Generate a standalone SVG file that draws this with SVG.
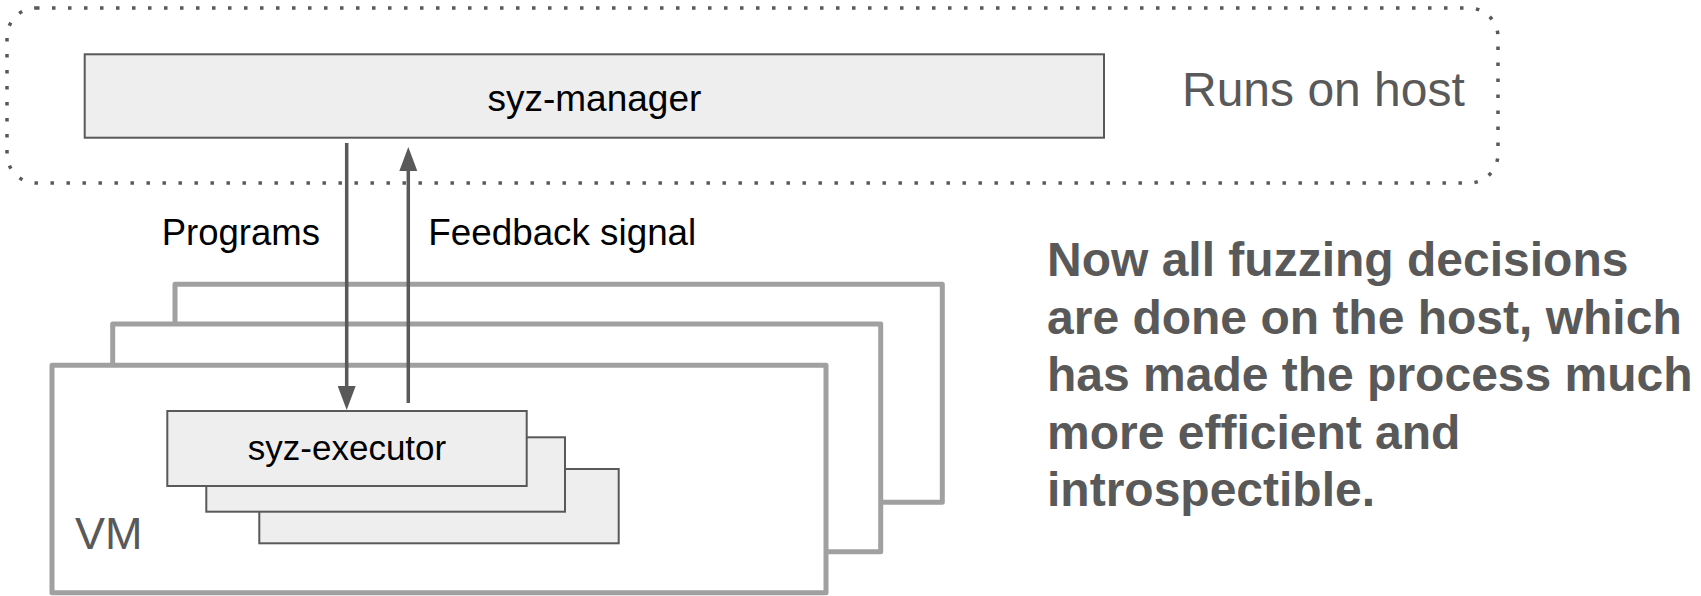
<svg xmlns="http://www.w3.org/2000/svg" width="1701" height="596" viewBox="0 0 1701 596">
<style>
.lbl{font-family:"Liberation Sans",Arial,sans-serif;fill:#000}
.gray{font-family:"Liberation Sans",Arial,sans-serif;fill:#595959}
.box{fill:#eeeeee;stroke:#595959;stroke-width:2}
.vm{fill:#ffffff;stroke:#a0a0a0;stroke-width:5;stroke-linejoin:round}
.conn{stroke:#595959;stroke-width:3.5;fill:none}
</style>
<defs>
<marker id="ah" markerUnits="userSpaceOnUse" markerWidth="24" markerHeight="18" viewBox="0 0 24 18" refX="0" refY="9" orient="auto">
<path d="M0,0 L24,9 L0,18 z" fill="#595959"/>
</marker>
</defs>
<rect width="1701" height="596" fill="#ffffff"/>
<g id="host">
<rect x="7" y="8" width="1491" height="175" rx="29" fill="none" stroke="#595959" stroke-width="3.5" stroke-dasharray="3.5 12.5"/>
<text class="gray" x="1182" y="106" font-size="48">Runs on host</text>
</g>
<g id="syz-manager">
<rect class="box" x="84.7" y="54.3" width="1019.3" height="83.4"/>
<text class="lbl" x="594.4" y="111" font-size="37" text-anchor="middle">syz-manager</text>
</g>
<g id="vm3"><rect class="vm" x="175" y="284.3" width="767.3" height="218"/></g>
<g id="vm2"><rect class="vm" x="112.7" y="324" width="768" height="227.7"/></g>
<g id="vm1">
<rect class="vm" x="52" y="365.3" width="774" height="227.4"/>
<text class="gray" x="75" y="549.3" font-size="45">VM</text>
</g>
<g id="executor3"><rect class="box" x="259.3" y="469" width="359.4" height="74.3"/></g>
<g id="executor2"><rect class="box" x="206.3" y="437.3" width="358.7" height="74.4"/></g>
<g id="syz-executor">
<rect class="box" x="167.3" y="411" width="359.4" height="75"/>
<text class="lbl" x="347" y="460" font-size="35" text-anchor="middle">syz-executor</text>
</g>
<g id="connectors">
<line class="conn" x1="346.7" y1="143" x2="346.7" y2="386" marker-end="url(#ah)"/>
<line class="conn" x1="408.3" y1="403" x2="408.3" y2="171" marker-end="url(#ah)"/>
<text class="lbl" x="161.7" y="245" font-size="36.5">Programs</text>
<text class="lbl" x="428.3" y="245" font-size="36.8">Feedback signal</text>
</g>
<g id="note">
<text class="gray" font-size="48" font-weight="bold">
<tspan x="1047" y="276">Now all fuzzing decisions</tspan>
<tspan x="1047" y="333.5">are done on the host, which</tspan>
<tspan x="1047" y="391">has made the process much</tspan>
<tspan x="1047" y="448.5">more efficient and</tspan>
<tspan x="1047" y="506">introspectible.</tspan>
</text>
</g>
</svg>
